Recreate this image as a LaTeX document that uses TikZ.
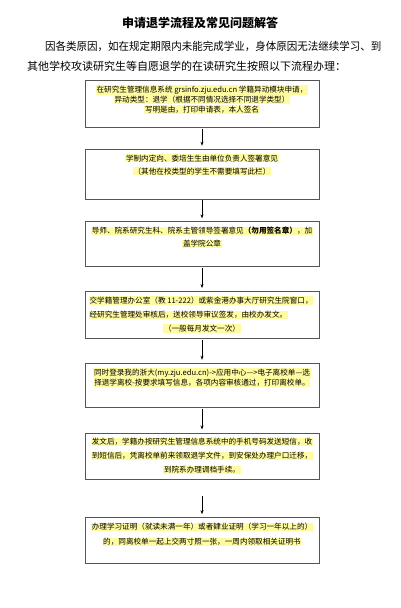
\documentclass[tikz,border=0pt]{standalone}
\usepackage{fontspec}
\setmainfont{Noto Sans CJK SC}
\usetikzlibrary{positioning, arrows.meta}
\definecolor{hlyellow}{RGB}{255, 251, 160}
\definecolor{frame}{RGB}{85, 85, 85}
\newcommand{\hl}[1]{{\setlength{\fboxsep}{0.6pt}\colorbox{hlyellow}{#1}}}
\newcommand{\hlleft}[1]{\hl{#1}\hskip 0pt plus 1fill\null}
\newcommand{\boxtext}[3]{\parbox[t][#1][t]{226pt}{\fontsize{7.6pt}{#2}\selectfont\centering #3}}

\begin{document}
\begin{tikzpicture}[
  stage/.style={
    draw=frame, line width=0.7pt,
    inner xsep=4pt, inner ysep=5pt,
  },
  arr/.style={-{Stealth[length=4pt, width=3pt]}, line width=0.6pt,
    shorten <=1pt, shorten >=3pt},
]
  \useasboundingbox (0,0) rectangle (400pt,-608pt);

  \node[font=\fontsize{12pt}{14pt}\selectfont\bfseries] (title) at (200pt,-23pt) {申请退学流程及常见问题解答};
  \node[anchor=north west, inner sep=0pt, align=left, font=\fontsize{11pt}{20pt}\selectfont] (intro) at (27pt,-41pt)
    {\hspace*{18pt}\scalebox{0.955}[1]{因各类原因，如在规定期限内未能完成学业，身体原因无法继续学习、到}\\其他学校攻读研究生等自愿退学的在读研究生按照以下流程办理：};

  \node[stage, anchor=north] (b1) at (202pt,-80pt)
    {\boxtext{37pt}{10pt}{\hl{在研究生管理信息系统 grsinfo.zju.edu.cn 学籍异动模块申请，}\\\hl{异动类型：退学（根据不同情况选择不同退学类型）}\\\hl{写明是由，打印申请表，本人签名}}};
  \node[stage, below=21pt of b1] (b2)
    {\boxtext{40pt}{13pt}{\hl{学制内定向、委培生生由单位负责人签署意见}\\\hl{（其他在校类型的学生不需要填写此栏）}}};
  \node[stage, below=22pt of b2] (b3)
    {\boxtext{35pt}{13pt}{\hl{导师、院系研究生科、院系主管领导签署意见{\bfseries（勿用签名章）}，加}\\\hl{盖学院公章}}};
  \node[stage, below=24pt of b3] (b4)
    {\boxtext{37pt}{14pt}{\hlleft{交学籍管理办公室（教 11-222）或紫金港办事大厅研究生院窗口，}\\\hlleft{经研究生管理处审核后，送校领导审议签发，由校办发文。}\\\hl{（一般每月发文一次）}}};
  \node[stage, below=24pt of b4] (b5)
    {\boxtext{34pt}{10pt}{\hl{同时登录我的浙大(my.zju.edu.cn)->应用中心—>电子离校单—选}\\\hl{择退学离校-按要求填写信息，各项内容审核通过，打印离校单。}}};
  \node[stage, below=25pt of b5] (b6)
    {\boxtext{36pt}{14pt}{\hl{发文后，学籍办按研究生管理信息系统中的手机号码发送短信，收}\\\hl{到短信后，凭离校单前来领取退学文件，到安保处办理户口迁移，}\\\hl{到院系办理调档手续。}}};
  \node[stage, below=38pt of b6] (b7)
    {\boxtext{36pt}{15pt}{\hl{办理学习证明（就读未满一年）或者肄业证明（学习一年以上的）}\\\hl{的，同离校单一起上交两寸照一张，一周内领取相关证明书}}};

  \draw[arr] (b1) -- (b2);
  \draw[arr] (b2) -- (b3);
  \draw[arr] (b3) -- (b4);
  \draw[arr] (b4) -- (b5);
  \draw[arr] (b5) -- (b6);
  \draw[arr, shorten <=17pt] (b6) -- (b7);
\end{tikzpicture}
\end{document}
